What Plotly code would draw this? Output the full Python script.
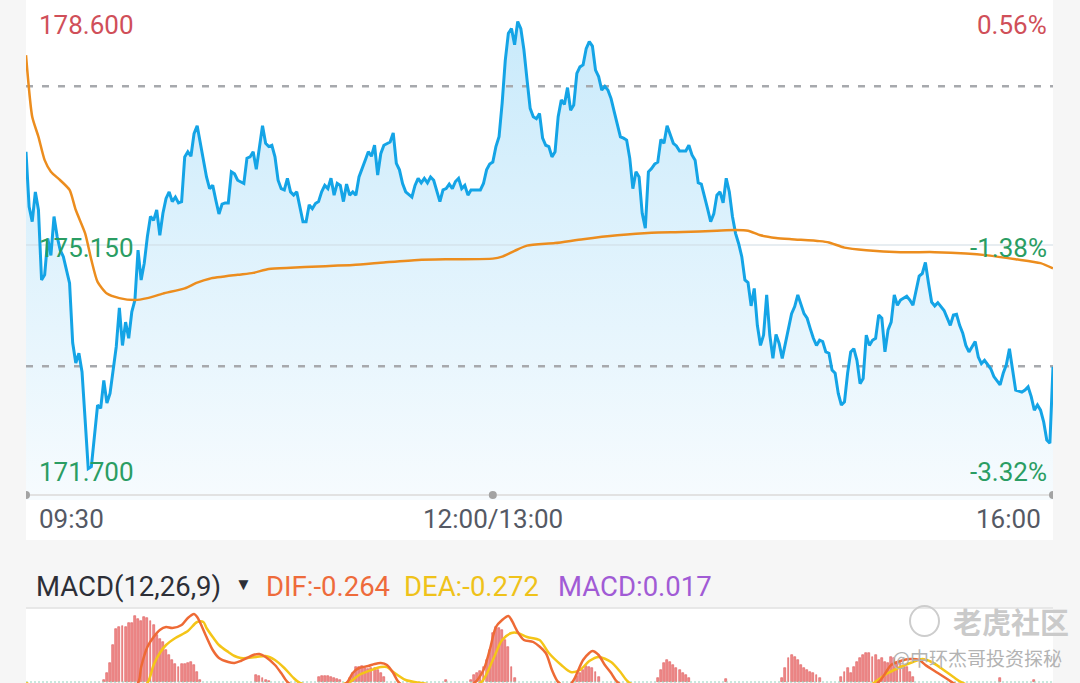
import plotly.graph_objects as go

# ---------------- data ----------------
# intraday minutes since 09:30 (lunch break removed: 150 = 12:00/13:00, 330 = 16:00)
minute = [0, 1, 2, 3, 4, 5, 6, 7, 8, 9, 10, 11, 12, 14, 15, 16, 17, 18, 19, 20,
          21, 23, 24, 25, 26, 27, 29, 30, 31, 32, 33, 34, 35, 36, 37, 38, 39, 40, 41, 42,
          43, 44, 45, 46, 47, 48, 49, 50, 51, 52, 53, 54, 55, 56, 57, 58, 59, 60, 61, 62,
          63, 64, 65, 66, 67, 68, 70, 71, 72, 73, 74, 75, 76, 77, 78, 79, 80, 81, 82, 83,
          84, 85, 86, 87, 88, 89, 90, 91, 92, 93, 94, 95, 96, 97, 98, 99, 100, 101, 102, 103,
          104, 105, 106, 107, 109, 110, 111, 112, 113, 114, 115, 116, 117, 118, 119, 120, 121, 122, 124, 125,
          126, 127, 128, 129, 130, 131, 132, 133, 134, 135, 136, 137, 138, 139, 140, 141, 142, 143, 144, 146,
          147, 148, 149, 150, 151, 152, 153, 154, 155, 156, 157, 158, 159, 160, 161, 162, 163, 164, 165, 166,
          167, 168, 169, 170, 171, 172, 173, 174, 175, 176, 177, 178, 179, 180, 181, 182, 183, 184, 185, 186,
          187, 188, 189, 190, 191, 192, 193, 194, 195, 196, 197, 198, 199, 200, 201, 202, 203, 204, 205, 206,
          207, 208, 209, 210, 212, 213, 214, 215, 216, 217, 219, 220, 221, 222, 223, 224, 225, 226, 227, 228,
          229, 230, 231, 232, 233, 234, 235, 236, 237, 238, 239, 240, 241, 242, 243, 244, 245, 246, 247, 248,
          250, 251, 252, 253, 254, 255, 256, 257, 258, 259, 260, 261, 262, 263, 264, 265, 266, 267, 268, 269,
          270, 271, 272, 273, 274, 275, 276, 277, 278, 279, 280, 281, 283, 284, 285, 286, 287, 288, 289, 290,
          291, 292, 293, 295, 296, 297, 298, 299, 300, 301, 302, 303, 304, 305, 306, 307, 308, 310, 311, 312,
          313, 314, 315, 316, 317, 318, 320, 321, 322, 323, 324, 325, 326, 327, 328, 329, 330]
price = [176.59, 175.74, 175.51, 175.97, 175.69, 174.61, 174.69, 175.25, 174.99, 175.59, 175.28, 175.07, 174.97, 174.56, 173.64, 173.33, 173.48, 173.19, 172.45, 171.70,
         171.73, 172.68, 172.63, 173.06, 172.71, 172.86, 173.58, 174.18, 173.60, 173.96, 173.71, 174.12, 174.30, 175.07, 174.61, 174.87, 175.28, 175.59, 175.53, 175.69,
         175.30, 175.64, 175.87, 175.97, 175.82, 175.89, 175.80, 175.82, 176.51, 176.59, 176.52, 176.87, 176.99, 176.72, 176.51, 176.20, 176.02, 176.07, 175.84, 175.63,
         175.78, 175.80, 175.80, 176.28, 176.25, 176.15, 176.10, 176.49, 176.51, 176.59, 176.32, 176.67, 176.99, 176.72, 176.67, 176.69, 176.51, 176.15, 176.02, 176.00,
         176.18, 175.97, 175.92, 175.97, 175.74, 175.51, 175.51, 175.77, 175.71, 175.79, 175.82, 175.97, 176.07, 176.02, 176.18, 175.92, 176.10, 176.07, 175.82, 176.09,
         175.92, 175.97, 175.92, 176.20, 176.46, 176.59, 176.52, 176.69, 176.23, 176.56, 176.69, 176.71, 176.74, 176.88, 176.41, 176.31, 176.10, 175.97, 175.89, 176.07,
         176.18, 176.11, 176.18, 176.11, 176.20, 176.15, 175.97, 175.82, 176.00, 176.02, 176.09, 176.02, 176.13, 176.18, 176.02, 176.07, 175.92, 176.00, 176.00, 176.00,
         176.10, 176.31, 176.40, 176.43, 176.67, 176.82, 177.34, 178.00, 178.42, 178.49, 178.24, 178.60, 178.49, 178.16, 177.70, 177.26, 177.13, 177.10, 177.18, 176.80,
         176.69, 176.67, 176.51, 176.59, 177.13, 177.39, 177.32, 177.58, 177.23, 177.31, 177.80, 177.90, 177.93, 178.18, 178.29, 178.22, 177.85, 177.75, 177.54, 177.60,
         177.54, 177.41, 177.21, 177.00, 176.82, 176.80, 176.77, 176.49, 176.02, 176.28, 176.20, 175.64, 175.41, 176.28, 176.33, 176.40, 176.43, 176.78, 176.72, 176.99,
         176.85, 176.72, 176.68, 176.60, 176.60, 176.69, 176.54, 176.46, 176.11, 176.09, 175.71, 175.51, 175.63, 175.92, 175.97, 175.80, 176.18, 175.97, 175.59, 175.33,
         175.17, 174.97, 174.61, 174.57, 174.21, 174.48, 173.91, 173.60, 173.76, 174.38, 173.76, 173.40, 173.77, 173.63, 173.40, 173.63, 173.91, 174.09, 174.20, 174.38,
         174.09, 174.02, 173.86, 173.71, 173.60, 173.68, 173.66, 173.50, 173.48, 173.22, 173.17, 172.86, 172.68, 172.73, 173.17, 173.50, 173.55, 173.37, 173.01, 173.09,
         173.76, 173.60, 173.68, 173.71, 174.07, 174.02, 173.50, 173.84, 173.96, 174.38, 174.22, 174.30, 174.36, 174.30, 174.22, 174.45, 174.67, 174.71, 174.88, 174.56,
         174.27, 174.21, 174.26, 174.14, 174.02, 173.91, 174.07, 174.08, 173.91, 173.79, 173.60, 173.50, 173.58, 173.66, 173.42, 173.32, 173.37, 173.24, 173.12, 173.06,
         172.99, 173.17, 173.30, 173.55, 173.22, 172.91, 172.88, 172.91, 172.96, 172.81, 172.60, 172.68, 172.60, 172.42, 172.14, 172.09, 173.27]

# average price line
avg_minute = [0, 2, 4, 6, 8, 11, 14, 16, 19, 21, 23, 26, 30, 35, 39, 44, 51, 55, 59, 68,
              73, 78, 85, 94, 105, 115, 126, 137, 150, 153, 157, 161, 170, 179, 190, 201, 211, 222, 228, 232,
              236, 241, 246, 255, 258, 263, 270, 281, 292, 302, 309, 318, 326, 330]
avg_price = [178.08, 177.13, 176.82, 176.46, 176.28, 176.15, 176.00, 175.69, 175.33, 174.92, 174.58, 174.40, 174.33, 174.30, 174.33, 174.40, 174.48, 174.57, 174.63, 174.69,
             174.72, 174.78, 174.80, 174.82, 174.84, 174.88, 174.92, 174.93, 174.94, 174.97, 175.06, 175.14, 175.18, 175.24, 175.30, 175.34, 175.35, 175.37, 175.38, 175.37,
             175.30, 175.26, 175.24, 175.21, 175.19, 175.11, 175.07, 175.04, 175.04, 175.02, 174.99, 174.93, 174.87, 174.79]

prev_close = 177.60
lower_ref = 173.28
mid_price = 175.15
axis_floor = 171.291

price_levels = [178.6, 175.15, 171.7]
price_labels = ["178.600", "175.150", "171.700"]
pct_labels = ["0.56%", "-1.38%", "-3.32%"]
label_colors = ["#d04f59", "#2a9d63", "#2a9d63"]

time_ticks = [0, 150, 330]
time_labels = ["09:30", "12:00/13:00", "16:00"]

# MACD(12,26,9)
bar_minute = [25, 26, 27, 28, 29, 30, 31, 32, 33, 34, 35, 36, 37, 38, 39, 40, 41, 42, 43, 44,
              45, 46, 47, 48, 49, 50, 51, 52, 53, 54, 55, 56, 74, 75, 76, 77, 78, 94, 95, 96,
              97, 98, 99, 100, 101, 104, 105, 106, 107, 108, 109, 110, 111, 112, 113, 114, 115, 135, 143, 144,
              145, 146, 147, 148, 149, 150, 151, 152, 153, 154, 155, 156, 157, 177, 178, 179, 180, 181, 182, 183,
              184, 203, 204, 205, 206, 207, 208, 209, 210, 211, 212, 213, 225, 243, 244, 245, 246, 247, 248, 249,
              250, 251, 252, 253, 254, 255, 262, 263, 264, 265, 266, 267, 268, 269, 270, 271, 272, 273, 274, 275,
              276, 277, 278, 279, 280, 281, 282, 283, 284, 285, 313, 324]
macd_bar = [0.02, 0.09, 0.19, 0.37, 0.53, 0.55, 0.56, 0.55, 0.59, 0.59, 0.66, 0.63, 0.61, 0.65, 0.64, 0.61, 0.57, 0.47, 0.43, 0.40,
            0.32, 0.27, 0.22, 0.18, 0.15, 0.18, 0.18, 0.19, 0.20, 0.17, 0.10, 0.02, 0.07, 0.06, 0.04, 0.02, 0.01, 0.05, 0.06, 0.06,
            0.06, 0.05, 0.04, 0.03, 0.02, 0.04, 0.09, 0.15, 0.15, 0.16, 0.14, 0.13, 0.14, 0.14, 0.12, 0.09, 0.05, 0.02, 0.02, 0.07,
            0.09, 0.11, 0.15, 0.22, 0.32, 0.49, 0.55, 0.54, 0.52, 0.42, 0.35, 0.15, 0.04, 0.06, 0.09, 0.12, 0.16, 0.15, 0.14, 0.10,
            0.05, 0.04, 0.12, 0.19, 0.22, 0.20, 0.17, 0.14, 0.12, 0.09, 0.07, 0.04, 0.03, 0.04, 0.14, 0.24, 0.27, 0.25, 0.22, 0.17,
            0.14, 0.12, 0.10, 0.09, 0.07, 0.04, 0.05, 0.10, 0.14, 0.09, 0.15, 0.20, 0.24, 0.27, 0.29, 0.29, 0.25, 0.27, 0.22, 0.24,
            0.20, 0.19, 0.25, 0.24, 0.20, 0.19, 0.17, 0.15, 0.10, 0.05, 0.04, 0.02]

dif_minute = [0, 12, 25, 36, 37, 39, 41, 43, 45, 47, 50, 52, 54, 55, 56, 58, 60, 62, 65, 67,
              69, 71, 73, 75, 77, 80, 82, 84, 90, 98, 103, 105, 107, 110, 112, 114, 116, 118, 120, 130,
              144, 147, 149, 151, 153, 155, 156, 158, 160, 163, 167, 169, 171, 174, 176, 179, 181, 182, 184, 186,
              188, 190, 200, 230, 260, 274, 278, 281, 284, 287, 289, 293, 296, 298, 310, 330]
dif = [-0.02, -0.45, -0.30, -0.01, 0.15, 0.35, 0.45, 0.52, 0.55, 0.54, 0.57, 0.64, 0.68, 0.65, 0.59, 0.45, 0.32, 0.24, 0.20, 0.19,
       0.21, 0.24, 0.27, 0.28, 0.25, 0.17, 0.09, 0.00, -0.10, -0.06, -0.01, 0.09, 0.14, 0.16, 0.18, 0.19, 0.17, 0.09, -0.01, -0.12,
       -0.01, 0.12, 0.32, 0.55, 0.62, 0.66, 0.62, 0.50, 0.42, 0.40, 0.29, 0.12, 0.00, -0.05, 0.02, 0.22, 0.29, 0.31, 0.27, 0.17,
       0.09, 0.00, -0.15, -0.20, -0.25, 0.00, 0.17, 0.21, 0.23, 0.22, 0.17, 0.09, 0.03, -0.01, -0.15, -0.264]

dea_minute = [0, 15, 30, 39, 41, 43, 45, 48, 52, 55, 57, 58, 60, 62, 65, 67, 69, 71, 74, 77,
              80, 83, 86, 88, 96, 104, 107, 111, 114, 116, 118, 122, 127, 136, 146, 150, 153, 156, 158, 161,
              165, 168, 172, 175, 178, 181, 184, 188, 191, 194, 230, 262, 277, 281, 285, 288, 291, 294, 298, 301,
              315, 330]
dea = [-0.01, -0.20, -0.25, -0.01, 0.17, 0.29, 0.37, 0.44, 0.51, 0.60, 0.60, 0.54, 0.45, 0.37, 0.30, 0.26, 0.24, 0.24, 0.25, 0.26,
       0.22, 0.14, 0.04, -0.01, -0.05, 0.00, 0.07, 0.12, 0.15, 0.15, 0.10, 0.02, -0.01, -0.05, -0.01, 0.22, 0.42, 0.49, 0.49, 0.45,
       0.42, 0.29, 0.17, 0.10, 0.12, 0.21, 0.25, 0.20, 0.10, -0.01, -0.22, -0.20, 0.09, 0.15, 0.20, 0.23, 0.20, 0.14, 0.05, -0.01,
       -0.15, -0.272]

macd_header = [("MACD(12,26,9)", 34, "#2d2f37"), ("DIF:-0.264", 264, "#ee6b3b"),
               ("DEA:-0.272", 402, "#efc21a"), ("MACD:0.017", 556, "#a15bd5")]

# ---------------- layout helpers (pixel -> paper) ----------------
W, H = 1080, 683


def px(x):
    return x / W


def py(y):
    return 1 - y / H


FONT = "Roboto, 'Noto Sans', sans-serif"
CJK = "'Noto Sans CJK SC', sans-serif"

fig = go.Figure()

# area under the price line
fig.add_trace(go.Scatter(
    x=minute, y=price, mode="lines", line=dict(width=0, color="rgba(0,0,0,0)"),
    fill="tozeroy",
    fillgradient=dict(type="vertical",
                      colorscale=[[0, "#f6fbfe"], [1, "#c9eafb"]],
                      start=axis_floor, stop=178.6),
    hoverinfo="skip", showlegend=False, xaxis="x", yaxis="y"))

# reference lines
for lvl, dash, col, w in [(prev_close, "7px,9px", "#a7a9ad", 2.5),
                          (lower_ref, "7px,9px", "#a7a9ad", 2.5),
                          (mid_price, "solid", "#cfdbe3", 1)]:
    fig.add_trace(go.Scatter(x=[0, 330], y=[lvl, lvl], mode="lines",
                             line=dict(color=col, width=w, dash=dash),
                             hoverinfo="skip", showlegend=False, xaxis="x", yaxis="y"))

# bottom axis line
fig.add_trace(go.Scatter(x=[0, 330], y=[axis_floor, axis_floor], mode="lines",
                         line=dict(color="#e2e2e2", width=2),
                         hoverinfo="skip", showlegend=False, xaxis="x", yaxis="y"))

# price line
fig.add_trace(go.Scatter(x=minute, y=price, mode="lines",
                         line=dict(color="#14a4e6", width=3),
                         showlegend=False, xaxis="x", yaxis="y"))

# average line
fig.add_trace(go.Scatter(x=avg_minute, y=avg_price, mode="lines",
                         line=dict(color="#ec8d1e", width=2.5, shape="spline", smoothing=0.6),
                         showlegend=False, xaxis="x", yaxis="y"))

# axis dots
fig.add_trace(go.Scatter(x=time_ticks, y=[axis_floor] * 3, mode="markers",
                         marker=dict(color="#a3a3a3", size=8),
                         hoverinfo="skip", showlegend=False, xaxis="x", yaxis="y"))

# MACD panel
fig.add_trace(go.Bar(x=bar_minute, y=macd_bar, width=0.62,
                     marker=dict(color="#f08a8a", line=dict(color="#de5b5b", width=0.6)),
                     showlegend=False, xaxis="x2", yaxis="y2"))
fig.add_trace(go.Scatter(x=[0, 330], y=[0, 0], mode="lines",
                         line=dict(color="#8fd3bd", width=1.2, dash="2px,2px"),
                         hoverinfo="skip", showlegend=False, xaxis="x2", yaxis="y2"))
fig.add_trace(go.Scatter(x=dea_minute, y=dea, mode="lines",
                         line=dict(color="#f4c518", width=2.5, shape="spline", smoothing=0.8),
                         showlegend=False, xaxis="x2", yaxis="y2"))
fig.add_trace(go.Scatter(x=dif_minute, y=dif, mode="lines",
                         line=dict(color="#ee6a35", width=2.5, shape="spline", smoothing=0.8),
                         showlegend=False, xaxis="x2", yaxis="y2"))

annotations = []
# price / percent labels
for lvl, lab, pct, col in zip(price_levels, price_labels, pct_labels, label_colors):
    annotations.append(dict(xref="paper", yref="y", x=px(37), y=lvl, text=lab,
                            showarrow=False, xanchor="left", yanchor="middle", yshift=-3,
                            font=dict(family=FONT, size=26, color=col)))
    annotations.append(dict(xref="paper", yref="y", x=px(1049), y=lvl, text=pct,
                            showarrow=False, xanchor="right", yanchor="middle", yshift=-3,
                            font=dict(family=FONT, size=26, color=col)))

# time labels
for t, lab, anc, shift in zip(time_ticks, time_labels, ["left", "center", "right"], [11, 0, -10]):
    annotations.append(dict(xref="x", yref="paper", x=t, y=py(519), text=lab,
                            showarrow=False, xanchor=anc, yanchor="middle", xshift=shift,
                            font=dict(family=FONT, size=26, color="#555964")))

# MACD header
for txt, x0, col in macd_header:
    annotations.append(dict(xref="paper", yref="paper", x=px(x0), y=py(586), text=txt,
                            showarrow=False, xanchor="left", yanchor="middle",
                            font=dict(family=FONT, size=27.5, color=col)))
annotations.append(dict(xref="paper", yref="paper", x=px(243), y=py(584), text="▼",
                        showarrow=False, xanchor="center", yanchor="middle",
                        font=dict(family=FONT, size=17, color="#2d2f37")))

# watermark
annotations.append(dict(xref="paper", yref="paper", x=px(1011), y=py(621), text="<b>老虎社区</b>",
                        showarrow=False, xanchor="center", yanchor="middle",
                        font=dict(family=CJK, size=29, color="#cacaca")))
annotations.append(dict(xref="paper", yref="paper", x=px(977), y=py(657), text="@中环杰哥投资探秘",
                        showarrow=False, xanchor="center", yanchor="middle",
                        font=dict(family=CJK, size=19, color="#b3b3b3")))

shapes = [
    # white chart panel (incl. time label row)
    dict(type="rect", xref="paper", yref="paper", x0=px(26), x1=px(1053), y0=py(540), y1=1,
         fillcolor="white", line=dict(width=0), layer="below"),
    # separator under MACD header
    dict(type="line", xref="paper", yref="paper", x0=px(26), x1=px(1053), y0=py(608), y1=py(608),
         line=dict(color="#d9d9d9", width=1)),
    # watermark logo
    dict(type="circle", xref="paper", yref="paper", x0=px(910), x1=px(939), y0=py(636), y1=py(606),
         line=dict(color="#cdcdcd", width=2)),
]

fig.update_layout(
    width=W, height=H,
    margin=dict(l=0, r=0, t=0, b=0),
    paper_bgcolor="#f6f6f6",
    plot_bgcolor="white",
    showlegend=False,
    bargap=0,
    annotations=annotations,
    shapes=shapes,
    xaxis=dict(domain=[px(26), px(1053)], range=[0, 330], visible=False, fixedrange=True),
    yaxis=dict(domain=[py(500), 1], range=[171.214, 178.932], visible=False, fixedrange=True),
    xaxis2=dict(domain=[px(26), px(1053)], range=[0, 330], visible=False, anchor="y2"),
    yaxis2=dict(domain=[0, py(609)], range=[-0.01, 0.73], visible=False, anchor="x2"),
)

# the default page keeps an 8px body margin; drop it so the chart fills the window
fig.write_html("out.html", config={"displayModeBar": False},
               post_script="document.body.style.margin='0px';")
